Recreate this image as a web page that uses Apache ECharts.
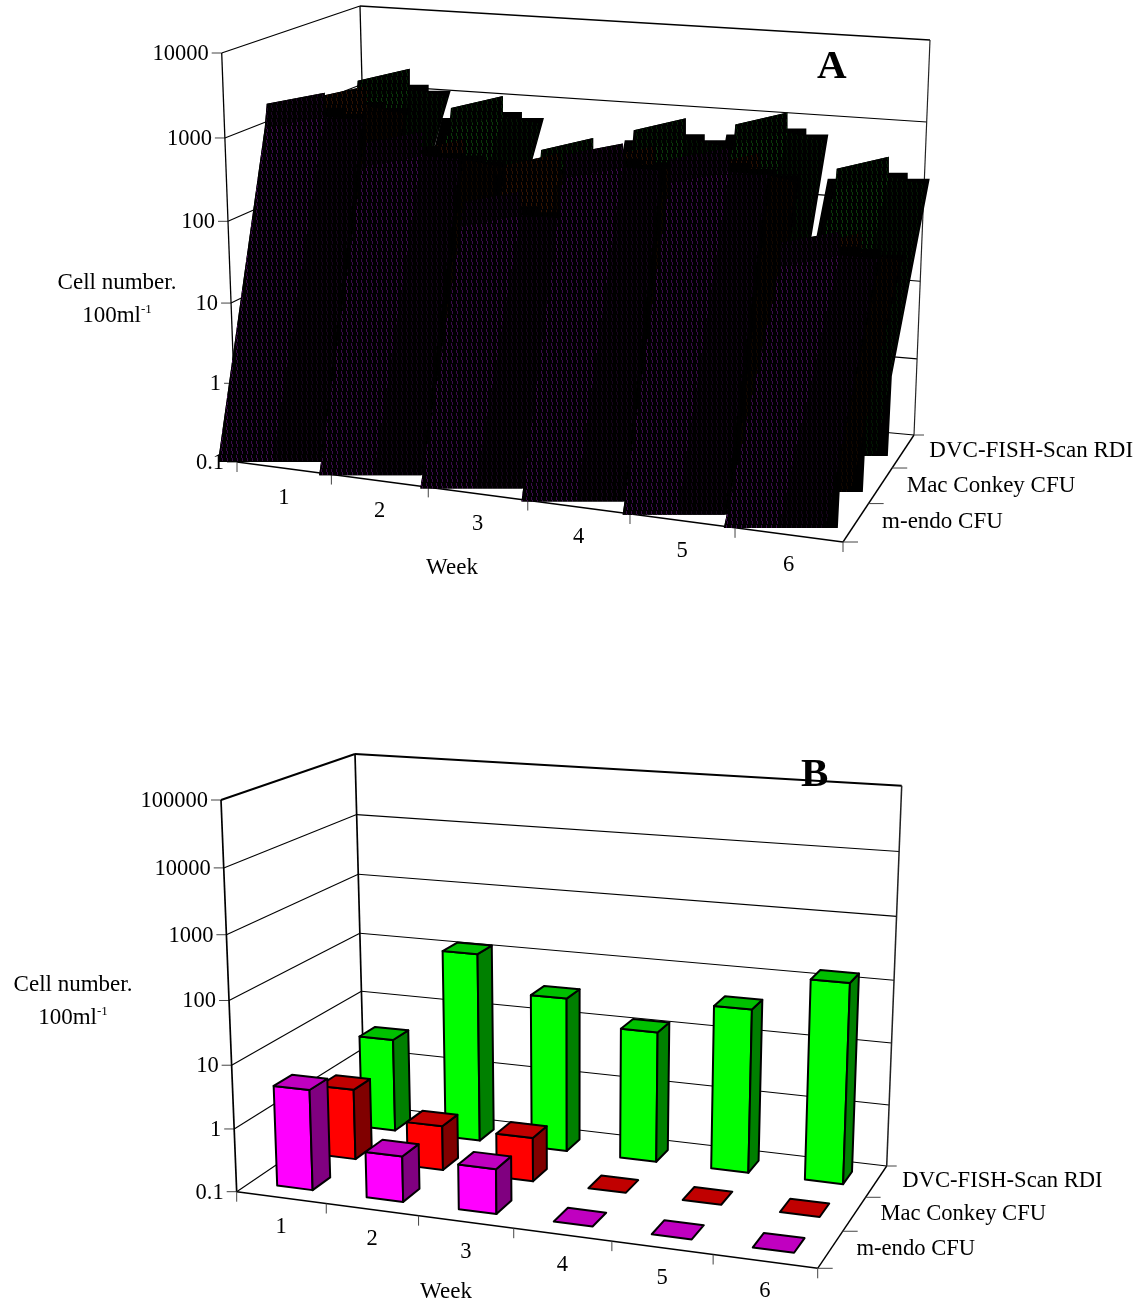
<!DOCTYPE html>
<html>
<head>
<meta charset="utf-8">
<style>html,body{margin:0;padding:0;background:#fff}#c{width:1143px;height:1306px}</style>
<script src="https://cdn.jsdelivr.net/npm/echarts@6/dist/echarts.min.js"></script>
</head>
<body>
<div id="c"></div>
<script>
// ---------- data ----------
const weeks = ['1','2','3','4','5','6'];
const rowNames = ['m-endo CFU','Mac Conkey CFU','DVC-FISH-Scan RDI'];
const ticksA = [0.1,1,10,100,1000,10000];
const ticksB = [0.1,1,10,100,1000,10000,100000];
const tickLabelsA = ['0.1','1','10','100','1000','10000'];
const tickLabelsB = ['0.1','1','10','100','1000','10000','100000'];
const aEndo = [2400,1150,316,1750,2240,309];
const aMac  = [1020,330,324,570,676,105];
const aDvc  = [603,407,180,457,776,324];
const bEndo = [3.9,0.52,0.5,0.1,0.1,0.1];
const bMac  = [1.4,0.52,0.5,0.1,0.1,0.1];
const bDvc  = [3.5,128,33,13,42,150];

// ---------- layout ----------
const FONT = '"Liberation Serif","Times New Roman",serif';
const gridA = {left:218, top:53, width:607, height:409};
const gridB = {left:237, top:800, width:581, height:392};
// camera calibration: [week 0-1, depth 0-1, height 0-1] -> page pixel
const calA = [[0,0,1,221.7,53],[0,0,0,237,462],[1,0,0,843,542],[1,1,0,914,435],[1,1,1,930,40],[0,1,1,360,6],[0,1,0,370,385]];
const calB = [[0,0,1,221,800],[0,0,0,236.7,1191.7],[1,0,0,817.7,1268.3],[1,1,0,886.7,1166],[1,1,1,901.7,785.7],[0,1,1,355,754],[0,1,0,364.5,1105]];
// how far each panel-A column top drifts sideways per pixel of height, [row][week]
const leanA = [[.136,.135,.15,.125,.137,.203],[.21,.225,.208,.17,.178,.234],[.29,.277,.266,.208,.197,.219]];

function solveCamera(cal){
  const n=11, M=Array.from({length:n},()=>new Array(n+1).fill(0));
  const add=(a,b)=>{for(let i=0;i<n;i++){for(let j=0;j<n;j++)M[i][j]+=a[i]*a[j];M[i][n]+=a[i]*b;}};
  cal.forEach(([X,Y,Z,x,y])=>{
    x/=1000;y/=1000;
    add([X,Y,Z,1,0,0,0,0,-x*X,-x*Y,-x*Z],x);
    add([0,0,0,0,X,Y,Z,1,-y*X,-y*Y,-y*Z],y);
  });
  for(let i=0;i<n;i++){
    let p=i;for(let k=i+1;k<n;k++)if(Math.abs(M[k][i])>Math.abs(M[p][i]))p=k;
    [M[i],M[p]]=[M[p],M[i]];
    for(let k=0;k<n;k++){if(k===i)continue;const f=M[k][i]/M[i][i];for(let j=i;j<=n;j++)M[k][j]-=f*M[i][j];}
  }
  const s=M.map((r,i)=>r[n]/r[i]);
  const raw=(X,Y,Z)=>{
    const d=s[8]*X+s[9]*Y+s[10]*Z+1;
    return [1000*(s[0]*X+s[1]*Y+s[2]*Z+s[3])/d,1000*(s[4]*X+s[5]*Y+s[6]*Z+s[7])/d];
  };
  // small corner residuals are spread back over the box so the corners land exactly
  const res={};
  cal.forEach(([X,Y,Z,x,y])=>{const p=raw(X,Y,Z);res[[X,Y,Z]]=[x-p[0],y-p[1]];});
  const a=res[[0,0,1]],b=res[[1,1,1]];
  res[[1,0,1]]=[(a[0]+b[0])/2,(a[1]+b[1])/2];
  return (X,Y,Z)=>{
    const p=raw(X,Y,Z);let dx=0,dy=0;
    for(const A of [0,1])for(const B of [0,1])for(const C of [0,1]){
      const wt=(A?X:1-X)*(B?Y:1-Y)*(C?Z:1-Z),e=res[[A,B,C]];
      dx+=wt*e[0];dy+=wt*e[1];
    }
    return [p[0]+dx,p[1]+dy];
  };
}
const projA=solveCamera(calA), projB=solveCamera(calB);

function hatch(color){
  const c=document.createElement('canvas');c.width=5;c.height=7;
  const g=c.getContext('2d');g.fillStyle='#000';g.fillRect(0,0,5,7);
  g.fillStyle=color;g.fillRect(1,0,1,3);g.fillRect(2,3,1,3);
  return {image:c,repeat:'repeat'};
}
const hatchA=[
  {front:hatch('#3c0a4a'),dim:hatch('#16041b'),band:hatch('#1c0522')},
  {front:hatch('#341404'),dim:hatch('#120701'),band:hatch('#2a1003')},
  {front:hatch('#0a380a'),dim:hatch('#031603'),band:hatch('#052205')}
];
const faceB=[
  {front:'#ff00ff',top:'#c000c0',side:'#800080'},
  {front:'#ff0000',top:'#c00000',side:'#800000'},
  {front:'#00ff00',top:'#00c000',side:'#008000'}
];

function line(a,b,w,color){
  return {type:'line',silent:true,shape:{x1:a[0],y1:a[1],x2:b[0],y2:b[1]},style:{stroke:color||'#000',lineWidth:w||1.2}};
}
function label(text,x,y,align,size,weight){
  return {type:'text',silent:true,style:{text:text,x:x,y:y,align:align||'center',verticalAlign:'middle',fill:'#000',
    font:(weight?weight+' ':'')+(size||22.5)+'px '+FONT}};
}
function poly(pts,fill,stroke,w){
  return {type:'polygon',silent:true,shape:{points:pts},style:{fill:fill,stroke:stroke||null,lineWidth:w||0,lineJoin:'round'}};
}
function unitLabel(x,y){
  return {type:'text',silent:true,style:{text:'{a|100ml}{b|-1}',x:x,y:y,align:'center',verticalAlign:'middle',
    rich:{a:{fontFamily:FONT,fontSize:23,fill:'#000',lineHeight:26},b:{fontFamily:FONT,fontSize:13,fill:'#000',verticalAlign:'top',lineHeight:26}}}};
}

function frame(proj,grid,ticks,tickLabels,titlePos,weekPos,topW,wallW,rowSize){
  return function(params,api){
    const kids=[];
    const height=t=>(grid.top+grid.height-api.coord([0,t])[1])/grid.height;
    const nw=weeks.length,nr=rowNames.length;
    ticks.forEach((t,i)=>{
      const w=height(t), lw=(i===ticks.length-1)?topW:1.1;
      kids.push(line(proj(0,0,w),proj(0,1,w),lw));
      kids.push(line(proj(0,1,w),proj(1,1,w),lw));
      const p=proj(0,0,w);
      kids.push(line([p[0]-10,p[1]],p,1,'#444'));
      kids.push(label(tickLabels[i],p[0]-13,p[1]+1,'right'));
    });
    kids.push(line(proj(0,0,0),proj(0,0,1),wallW));
    kids.push(line(proj(0,1,0),proj(0,1,1),wallW));
    kids.push(line(proj(1,1,0),proj(1,1,1),wallW*.9,'#222'));
    kids.push(line(proj(0,0,0),proj(1,0,0),1.4));
    kids.push(line(proj(1,0,0),proj(1,1,0),1.4));
    for(let i=0;i<=nw;i++){
      const p=proj(i/nw,0,0);
      kids.push(line(p,[p[0],p[1]+10],1,'#444'));
      if(i<nw){
        const m=proj((i+.5)/nw,0,0);
        kids.push(label(weeks[i],m[0],m[1]+30));
      }
    }
    for(let r=0;r<=nr;r++){
      const p=proj(1,r/nr,0);
      kids.push(line(p,[p[0]+(r===nr?10:15),p[1]],1,'#444'));
      if(r<nr){
        const m=proj(1,(r+.5)/nr,0);
        kids.push(label(rowNames[r],m[0]+26,m[1],'left',rowSize));
      }
    }
    kids.push(label('Week',weekPos[0],weekPos[1],'center',23));
    kids.push(label('Cell number.',titlePos[0],titlePos[1],'center',23));
    kids.push(unitLabel(titlePos[0],titlePos[1]+33));
    return {type:'group',children:kids};
  };
}

function barA(r){
  return function(params,api){
    const i=api.value(0),v=api.value(1);
    const c=api.coord([i,v]),base=api.coord([i,ticksA[0]]),bw=api.size([1,0])[0];
    const x0=c[0]-bw/2+r*25, yb=base[1]+i*13.2-r*36, h=base[1]-c[1];
    const sx=x0+leanA[r][i]*h, sy=yb-h;
    const W=r===0?100:(r===1?97:93), bwid=r===0?58:(r===1?55:52), rise=r===0?11:12, sh=r===0?0:9, thick=r===0?24:20;
    const body=[[x0,yb],[x0+114,yb],[x0+118,yb-80],[sx+W,sy+10],[sx+bwid+19,sy+10],[sx+bwid+19,sy+4],[sx+bwid,sy+4],[sx+bwid,sy-rise],[sx,sy]];
    if(sh)body.push([sx,sy+10],[sx-sh,sy+10]);else body.push([sx-2,sy+thick]);
    const lowL=[sx-2,sy+thick],lowR=[sx+bwid,sy+thick-rise];
    const xl=x0+55, xm=x0+102;
    const t=hatchA[r];
    return {type:'group',children:[
      poly(body,'#000'),
      poly([[x0,yb],[xl,yb],lowR,lowL],t.front),
      poly([[xl,yb],[xm,yb],[sx+bwid+38,sy+16],lowR],t.dim),
      poly([[sx,sy],[sx+bwid,sy-rise],lowR,lowL],t.band)
    ]};
  };
}

function barB(r){
  return function(params,api){
    const i=api.value(0),v=api.value(1);
    const c=api.coord([i,v]);
    const w=(gridB.top+gridB.height-c[1])/gridB.height;
    const nw=weeks.length,nr=rowNames.length,hw=.2;
    const u0=(i+.5-hw)/nw,u1=(i+.5+hw)/nw,d0=(r+.5-hw)/nr,d1=(r+.5+hw)/nr;
    const f=faceB[r],L=2;
    const kids=[];
    if(w>0.001){
      kids.push(poly([projB(u0,d0,0),projB(u1,d0,0),projB(u1,d0,w),projB(u0,d0,w)],f.front,'#000',L));
      kids.push(poly([projB(u1,d0,0),projB(u1,d1,0),projB(u1,d1,w),projB(u1,d0,w)],f.side,'#000',L));
    }
    kids.push(poly([projB(u0,d0,w),projB(u1,d0,w),projB(u1,d1,w),projB(u0,d1,w)],f.top,'#000',L));
    return {type:'group',children:kids};
  };
}

const rowsA=[aEndo,aMac,aDvc], rowsB=[bEndo,bMac,bDvc];
const series=[];
series.push({type:'custom',name:'frameA',xAxisIndex:0,yAxisIndex:0,clip:false,silent:true,data:[[0,0.1]],
  renderItem:frame(projA,gridA,ticksA,tickLabelsA,[117,283],[452,568],1.3,1.3,23)});
series.push({type:'custom',name:'frameB',xAxisIndex:1,yAxisIndex:1,clip:false,silent:true,data:[[0,0.1]],
  renderItem:frame(projB,gridB,ticksB,tickLabelsB,[73,985],[446,1292],1.9,1.7,22.6)});
[2,1,0].forEach(r=>{
  series.push({type:'custom',name:rowNames[r]+' A',xAxisIndex:0,yAxisIndex:0,clip:false,silent:true,
    data:rowsA[r].map((v,i)=>[i,v]),encode:{x:0,y:1},renderItem:barA(r)});
});
[2,1,0].forEach(r=>{
  series.push({type:'custom',name:rowNames[r]+' B',xAxisIndex:1,yAxisIndex:1,clip:false,silent:true,
    data:rowsB[r].map((v,i)=>[i,v]),encode:{x:0,y:1},renderItem:barB(r)});
});
const chart=echarts.init(document.getElementById('c'),null,{renderer:'canvas'});
const hiddenX=g=>({type:'category',data:weeks,gridIndex:g,show:false});
chart.setOption({
  animation:false,
  backgroundColor:'#fff',
  grid:[
    Object.assign({containLabel:false,show:false},gridA),
    Object.assign({containLabel:false,show:false},gridB)
  ],
  xAxis:[hiddenX(0),hiddenX(1)],
  yAxis:[
    {type:'log',logBase:10,min:0.1,max:10000,gridIndex:0,show:false},
    {type:'log',logBase:10,min:0.1,max:100000,gridIndex:1,show:false}
  ],
  graphic:[
    {type:'text',left:817,top:47,z:100,style:{text:'A',fill:'#000',font:'bold 41px '+FONT}},
    {type:'text',left:801,top:755,z:100,style:{text:'B',fill:'#000',font:'bold 41px '+FONT}}
  ],
  series:series
});
</script>
</body>
</html>
